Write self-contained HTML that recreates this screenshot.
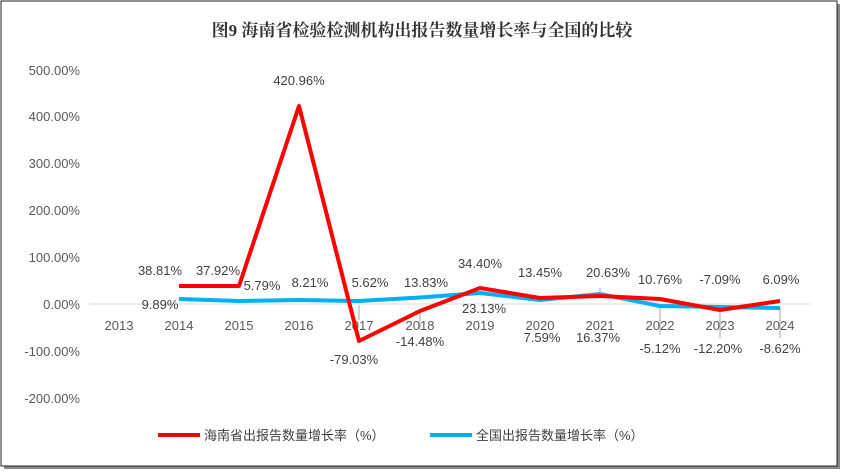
<!DOCTYPE html>
<html><head><meta charset="utf-8"><style>
body{margin:0;background:#fff;}
svg{display:block;font-family:"Liberation Sans","Noto Sans CJK SC",sans-serif;}
</style></head><body>
<svg width="845" height="474" viewBox="0 0 845 474" xmlns="http://www.w3.org/2000/svg">
<rect x="0" y="0" width="845" height="474" fill="#fff"/>
<rect x="4" y="4" width="836" height="465" fill="#888"/>
<rect x="1" y="1" width="836" height="465" fill="#fff" stroke="#222" stroke-width="1"/>
<text x="422" y="36" text-anchor="middle" font-size="17" font-weight="bold" fill="#333" font-family="'Liberation Serif','Noto Serif CJK SC',serif">图9  海南省检验检测机构出报告数量增长率与全国的比较</text>
<g font-size="13" fill="#595959" text-anchor="end">
<text x="80" y="75">500.00%</text>
<text x="80" y="121">400.00%</text>
<text x="80" y="168">300.00%</text>
<text x="80" y="215">200.00%</text>
<text x="80" y="262">100.00%</text>
<text x="80" y="309">0.00%</text>
<text x="80" y="356">-100.00%</text>
<text x="80" y="403">-200.00%</text>
</g>
<line x1="89" y1="304" x2="810" y2="304" stroke="#d9d9d9"/>
<g font-size="13" fill="#595959" text-anchor="middle">
<text x="119" y="330">2013</text><text x="179" y="330">2014</text><text x="239" y="330">2015</text>
<text x="299" y="330">2016</text><text x="359" y="330">2017</text><text x="420" y="330">2018</text>
<text x="480" y="330">2019</text><text x="540" y="330">2020</text><text x="600" y="330">2021</text>
<text x="660" y="330">2022</text><text x="720" y="330">2023</text><text x="780" y="330">2024</text>
</g>
<g stroke="#a6a6a6" stroke-width="1" fill="none">
<line x1="359" y1="305" x2="359" y2="320"/><line x1="420" y1="312" x2="420" y2="330"/>
<line x1="660" y1="306" x2="660" y2="335"/><line x1="720" y1="310" x2="720" y2="338"/>
<line x1="780" y1="308" x2="780" y2="338"/><line x1="600" y1="288" x2="600" y2="294"/>
</g>
<polyline fill="none" stroke="#00b0f0" stroke-width="4" stroke-linejoin="round" points="179,299 239,301 299,300 359,301 420,297.5 480,293 540,300 600,294 660,306 720,307 780,308"/>
<polyline fill="none" stroke="#ff0000" stroke-width="4" stroke-linejoin="round" points="179,286 239,286 299,106 359,341 420,311 480,288 540,298 600,296 660,299 720,310 780,301"/>
<g font-size="13" fill="#404040" text-anchor="middle">
<text x="160" y="275">38.81%</text><text x="160" y="309">9.89%</text>
<text x="218" y="275">37.92%</text><text x="262" y="290">5.79%</text>
<text x="299" y="85">420.96%</text><text x="310" y="287">8.21%</text>
<text x="354" y="364">-79.03%</text><text x="370" y="287">5.62%</text>
<text x="420" y="346">-14.48%</text><text x="426" y="287">13.83%</text>
<text x="480" y="268">34.40%</text><text x="484" y="313">23.13%</text>
<text x="540" y="277">13.45%</text><text x="542" y="342">7.59%</text>
<text x="608" y="277">20.63%</text><text x="598" y="342">16.37%</text>
<text x="660" y="284">10.76%</text><text x="660" y="353">-5.12%</text>
<text x="720" y="284">-7.09%</text><text x="718" y="353">-12.20%</text>
<text x="781" y="284">6.09%</text><text x="780" y="353">-8.62%</text>
</g>
<line x1="158" y1="435" x2="200" y2="435" stroke="#ff0000" stroke-width="4"/>
<text x="204" y="440" font-size="13" fill="#404040">海南省出报告数量增长率（%）</text>
<line x1="430" y1="435" x2="472" y2="435" stroke="#00b0f0" stroke-width="4"/>
<text x="476" y="440" font-size="13" fill="#404040">全国出报告数量增长率（%）</text>
</svg>
</body></html>
